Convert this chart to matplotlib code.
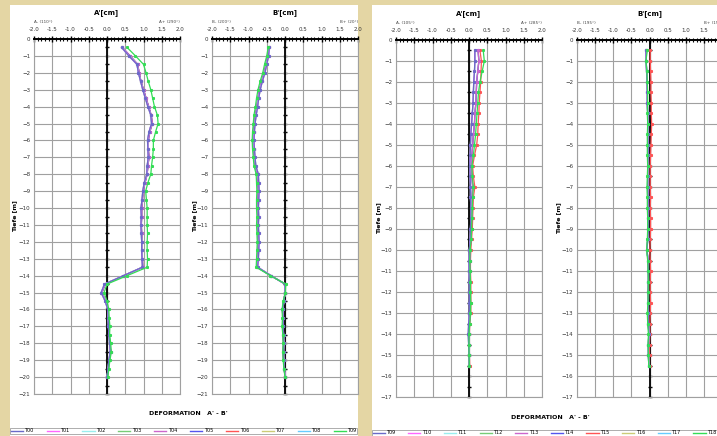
import numpy as np
import matplotlib
matplotlib.use("Agg")
from matplotlib import pyplot as plt
from matplotlib.patches import Rectangle
from matplotlib.lines import Line2D
from matplotlib.ticker import MultipleLocator, FormatStrFormatter

# depth stations (m below top of casing)
depth_left = np.arange(0.5, 20.5, 0.5)
depth_right = np.arange(0.5, 16.0, 0.5)

labels_left = ["T00", "T01", "T02", "T03", "T04", "T05", "T06", "T07", "T08", "T09"]
labels_right = ["T09", "T10", "T11", "T12", "T13", "T14", "T15", "T16", "T17", "T18"]
colors = ["#6a6ac8", "#ff66ff", "#99eeee", "#77cc77", "#cc66cc",
          "#5555ee", "#ff5555", "#cccc77", "#66ccff", "#33dd55"]

# ---- left inclinometer, A axis [cm]
left_a_early = [0.40, 0.60, 0.82, 0.86, 0.92, 0.98, 1.05, 1.12, 1.20, 1.22,
                1.15, 1.11, 1.12, 1.13, 1.10, 1.09, 1.02, 0.98, 0.96, 0.93,
                0.94, 0.93, 0.94, 0.95, 0.95, 0.96, 0.97, 0.45, -0.07, -0.16,
                -0.05, 0.02, 0.03, 0.04, 0.05, 0.07, 0.09, 0.05, 0.03, 0.00]
left_a_mid = [0.42, 0.63, 0.84, 0.88, 0.93, 1.00, 1.07, 1.14, 1.21, 1.24,
              1.17, 1.13, 1.13, 1.15, 1.12, 1.10, 1.04, 0.99, 0.97, 0.95,
              0.95, 0.94, 0.95, 0.96, 0.96, 0.97, 0.98, 0.46, -0.05, -0.14,
              -0.04, 0.03, 0.04, 0.05, 0.06, 0.08, 0.10, 0.06, 0.04, 0.01]
left_a_last = [0.55, 0.78, 1.00, 1.07, 1.13, 1.20, 1.25, 1.30, 1.38, 1.40,
               1.33, 1.27, 1.27, 1.25, 1.22, 1.20, 1.12, 1.06, 1.08, 1.10,
               1.10, 1.10, 1.11, 1.10, 1.10, 1.11, 1.10, 0.55, 0.00, -0.08,
               0.00, 0.05, 0.06, 0.08, 0.07, 0.10, 0.12, 0.08, 0.05, 0.02]

# ---- left inclinometer, B axis [cm]
left_b_early = [-0.43, -0.45, -0.50, -0.55, -0.62, -0.68, -0.72, -0.75, -0.79, -0.82,
                -0.84, -0.85, -0.84, -0.82, -0.80, -0.73, -0.72, -0.71, -0.72, -0.73,
                -0.72, -0.73, -0.72, -0.71, -0.72, -0.73, -0.75, -0.38, 0.00, 0.00,
                -0.03, -0.06, -0.05, -0.05, -0.04, -0.03, -0.04, -0.03, -0.02, 0.00]
left_b_mid = [-0.44, -0.47, -0.52, -0.57, -0.64, -0.70, -0.74, -0.77, -0.81, -0.84,
              -0.86, -0.87, -0.86, -0.84, -0.82, -0.75, -0.74, -0.73, -0.74, -0.75,
              -0.74, -0.75, -0.74, -0.73, -0.74, -0.75, -0.76, -0.39, 0.01, 0.01,
              -0.04, -0.07, -0.06, -0.06, -0.05, -0.04, -0.05, -0.04, -0.02, 0.00]
left_b_last = [-0.46, -0.50, -0.56, -0.61, -0.68, -0.74, -0.78, -0.81, -0.85, -0.87,
               -0.89, -0.90, -0.89, -0.87, -0.85, -0.79, -0.78, -0.77, -0.78, -0.78,
               -0.77, -0.78, -0.77, -0.76, -0.77, -0.78, -0.79, -0.40, 0.02, 0.01,
               -0.05, -0.08, -0.07, -0.08, -0.06, -0.05, -0.06, -0.05, -0.03, 0.00]

# ---- right inclinometer, A axis [cm]
right_a_early = [0.16, 0.16, 0.15, 0.13, 0.12, 0.11, 0.09, 0.07, 0.05, 0.04,
                 0.03, 0.02, 0.03, 0.04, 0.04, 0.05, 0.05, 0.04, 0.03, 0.01,
                 0.00, 0.00, 0.01, 0.01, 0.01, 0.01, -0.01, -0.02, -0.01, 0.00, 0.01]
right_a_mid = [0.25, 0.27, 0.24, 0.21, 0.20, 0.19, 0.16, 0.15, 0.12, 0.10,
               0.08, 0.06, 0.08, 0.10, 0.08, 0.08, 0.07, 0.06, 0.05, 0.03,
               0.02, 0.02, 0.03, 0.03, 0.03, 0.03, 0.01, 0.00, 0.00, 0.01, 0.01]
right_a_red = [0.30, 0.34, 0.33, 0.32, 0.30, 0.28, 0.27, 0.25, 0.24, 0.21,
               0.15, 0.10, 0.12, 0.16, 0.12, 0.11, 0.10, 0.09, 0.07, 0.05,
               0.04, 0.04, 0.05, 0.05, 0.05, 0.05, 0.02, 0.01, 0.00, 0.01, 0.02]
right_a_last = [0.39, 0.42, 0.36, 0.30, 0.26, 0.24, 0.22, 0.20, 0.18, 0.15,
                0.12, 0.08, 0.09, 0.12, 0.10, 0.09, 0.08, 0.07, 0.06, 0.03,
                0.02, 0.03, 0.04, 0.04, 0.05, 0.04, 0.02, 0.00, 0.00, 0.00, 0.01]

# ---- right inclinometer, B axis [cm]
right_b_early = [-0.10, -0.09, -0.08, -0.07, -0.06, -0.06, -0.05, -0.05, -0.05, -0.04,
                 -0.04, -0.05, -0.05, -0.05, -0.04, -0.04, -0.04, -0.03, -0.05, -0.07,
                 -0.04, -0.03, -0.03, -0.04, -0.03, -0.04, -0.03, -0.02, -0.03, -0.03, -0.02]
right_b_red = [0.02, 0.02, 0.03, 0.04, 0.04, 0.05, 0.05, 0.06, 0.05, 0.04,
               0.03, 0.02, 0.02, 0.02, 0.03, 0.02, 0.03, 0.03, 0.02, 0.01,
               0.02, 0.03, 0.02, 0.02, 0.03, 0.02, 0.01, 0.01, 0.00, 0.00, 0.00]
right_b_last = [-0.06, -0.10, -0.07, -0.06, -0.05, -0.05, -0.06, -0.05, -0.06, -0.06,
                -0.06, -0.05, -0.06, -0.07, -0.06, -0.06, -0.05, -0.05, -0.06, -0.08,
                -0.05, -0.04, -0.03, -0.04, -0.04, -0.06, -0.05, -0.03, -0.04, -0.03, -0.02]

# which profile each of the 10 readings follows (they overlap on the plot)
left_a = [left_a_early] * 4 + [left_a_mid] * 5 + [left_a_last]
left_b = [left_b_early] * 4 + [left_b_mid] * 5 + [left_b_last]
right_a = [right_a_early] * 4 + [right_a_mid] * 2 + [right_a_red] + [right_a_mid] * 2 + [right_a_last]
right_b = [right_b_early] * 6 + [right_b_red] + [right_b_early] * 2 + [right_b_last]

W, H = 717, 436
fig = plt.figure(figsize=(W / 100, H / 100), dpi=100)
fig.patch.set_facecolor("#e4d6a4")

# the two paper sheets
for x0, x1 in [(10, 358), (372, 717)]:
    fig.add_artist(Rectangle((x0 / W, 0), (x1 - x0) / W, 431 / H,
                             transform=fig.transFigure, facecolor="white",
                             edgecolor="none", zorder=0))


def panel(rect, depth, profiles, maxdepth, title, lab_lo, lab_hi, ylab_x):
    x0, y0, x1, y1 = rect
    ax = fig.add_axes([x0 / W, 1 - y1 / H, (x1 - x0) / W, (y1 - y0) / H])
    ax.set_xlim(-2, 2)
    ax.set_ylim(-maxdepth, 0)
    ax.xaxis.tick_top()
    ax.xaxis.set_major_locator(MultipleLocator(0.5))
    ax.xaxis.set_minor_locator(MultipleLocator(0.1))
    ax.xaxis.set_major_formatter(FormatStrFormatter("%.1f"))
    ax.yaxis.set_major_locator(MultipleLocator(1))
    ax.tick_params(axis="x", which="major", direction="inout", length=4,
                   width=1, labelsize=4, pad=3, labelcolor="#333333")
    ax.tick_params(axis="x", which="minor", direction="inout", length=3, width=0.8)
    ax.tick_params(axis="y", length=0, labelsize=4, pad=2.5, labelcolor="#333333")
    ax.grid(True, which="major", color="#a0a0a0", lw=0.8)
    for s in ["left", "right", "bottom"]:
        ax.spines[s].set_color("#a0a0a0")
        ax.spines[s].set_linewidth(0.8)
    ax.spines["top"].set_linewidth(1.4)

    # zero axis with depth ticks
    ax.axvline(0, color="black", lw=1.3, zorder=1.6)
    sec = ax.secondary_yaxis(0.5)
    sec.yaxis.set_major_locator(MultipleLocator(1))
    sec.yaxis.set_minor_locator(MultipleLocator(0.5))
    sec.tick_params(which="both", direction="inout", length=2.5, width=1,
                    labelleft=False, labelright=False)

    # earlier readings on top, like the source sheet
    for i, (vals, c) in enumerate(zip(profiles, colors)):
        z = 3 if i == len(profiles) - 1 else 2.9 - i * 0.05
        ax.plot(vals, -depth, color=c, lw=0.9, marker="s", ms=1.2, mec=c, zorder=z)

    ax.text(0.5, 1.075, title, transform=ax.transAxes, ha="center",
            va="center", fontsize=5, fontweight="bold")
    ax.text(0.0, 1.047, lab_lo, transform=ax.transAxes, ha="left",
            va="center", fontsize=3, color="#444444")
    ax.text(1.0, 1.047, lab_hi, transform=ax.transAxes, ha="right",
            va="center", fontsize=3, color="#444444")
    ax.text(ylab_x, 0.5, "Tiefe [m]", transform=ax.transAxes, rotation=90,
            ha="center", va="center", fontsize=4.5, fontweight="bold")
    return ax


panel((34, 39, 180, 394), depth_left, left_a, 21, "A'[cm]", "A- (110°)", "A+ (290°)", -0.13)
panel((212, 39, 358, 394), depth_left, left_b, 21, "B'[cm]", "B- (200°)", "B+ (20°)", -0.12)
panel((396, 40, 542, 397), depth_right, right_a, 17, "A'[cm]", "A- (105°)", "A+ (285°)", -0.12)
panel((577, 40, 722, 397), depth_right, right_b, 17, "B'[cm]", "B- (195°)", "B+ (15°)", -0.13)

fig.text(188 / W, 1 - 413 / H, "DEFORMATION   A' - B'", ha="center",
         va="center", fontsize=4.5, fontweight="bold")
fig.text(550 / W, 1 - 417 / H, "DEFORMATION   A' - B'", ha="center",
         va="center", fontsize=4.5, fontweight="bold")

for labels, box in [(labels_left, (10, 424, 357, 434)), (labels_right, (372, 427, 717, 436))]:
    handles = [Line2D([], [], color=c, lw=1) for c in colors]
    bx0, by0, bx1, by1 = box
    leg = fig.legend(handles, labels, ncol=10, loc="lower left",
                     bbox_to_anchor=(bx0 / W, 1 - by1 / H, (bx1 - bx0) / W, (by1 - by0) / H),
                     mode="expand", fontsize=3.5, frameon=True, fancybox=False,
                     edgecolor="#888888", handlelength=2.5, handletextpad=0.3,
                     borderpad=0.15, borderaxespad=0, columnspacing=0.5)
    leg.get_frame().set_linewidth(0.6)

fig.savefig("out.png", dpi=100, facecolor=fig.get_facecolor())
